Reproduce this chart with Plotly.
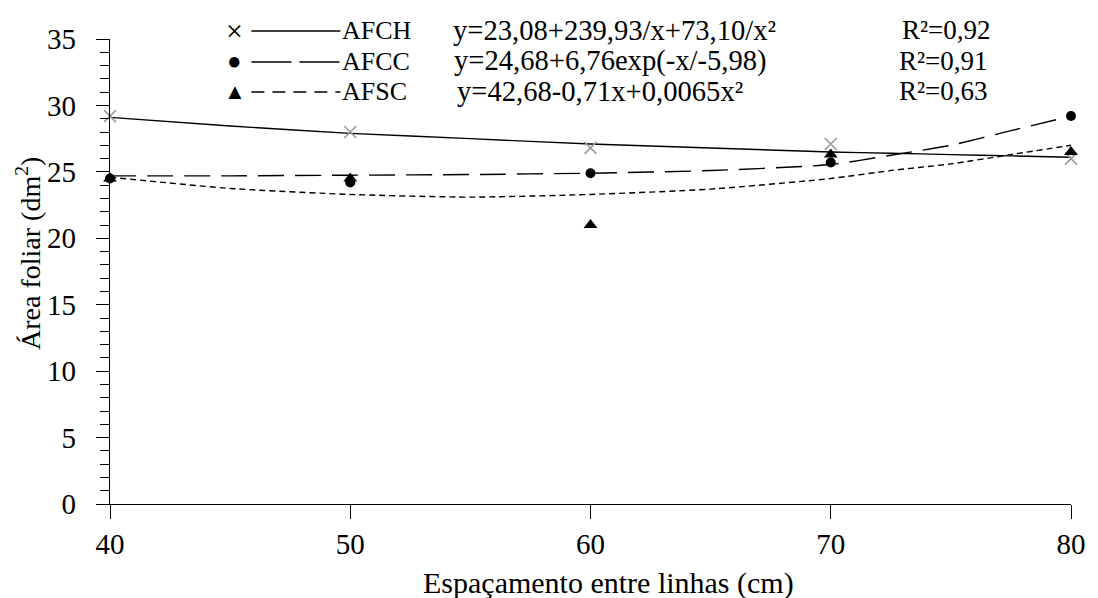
import plotly.graph_objects as go

# ---- data ----
x_obs = [40, 50, 60, 70, 80]
afch_obs = [29.2, 28.0, 26.8, 27.1, 26.0]
afcc_obs = [24.5, 24.2, 24.9, 25.7, 29.2]
afsc_obs = [24.5, 24.5, 21.0, 26.3, 26.5]

x_fit = [40, 45, 50, 55, 60, 65, 70, 72.5, 75, 77.5, 80]
afch_fit = [29.1, 28.45, 27.9, 27.5, 27.1, 26.8, 26.5, 26.4, 26.3, 26.2, 26.1]
afcc_fit = [24.7, 24.7, 24.75, 24.8, 24.9, 25.1, 25.55, 26.25, 27.0, 28.1, 29.2]
afsc_fit = [24.6, 23.75, 23.3, 23.1, 23.3, 23.7, 24.5, 25.1, 25.6, 26.3, 27.0]

series_names = ["AFCH", "AFCC", "AFSC"]
equations = ["y=23,08+239,93/x+73,10/x²",
             "y=24,68+6,76exp(-x/-5,98)",
             "y=42,68-0,71x+0,0065x²"]
r2_labels = ["R²=0,92", "R²=0,91", "R²=0,63"]
x_ticks = [40, 50, 60, 70, 80]
y_ticks = [0, 5, 10, 15, 20, 25, 30, 35]
x_title = "Espaçamento entre linhas (cm)"
y_title = "Área foliar (dm<sup>2</sup>)"

FONT = "Liberation Serif"
W, H = 1098, 598
L, R, T, B = 110, 16, 39, 94
PW, PH = W - L - R, H - T - B


def px(xp):
    return (xp - L) / PW


def py(yp):
    return (H - B - yp) / PH


fig = go.Figure()

line_styles = ["solid", "26px,11px", "6px,4px"]
fits = [afch_fit, afcc_fit, afsc_fit]
for fit, dash in zip(fits, line_styles):
    fig.add_trace(go.Scatter(x=x_fit, y=fit, mode="lines",
                             line=dict(color="black", width=1.4, dash=dash,
                                       shape="spline", smoothing=0.6),
                             showlegend=False, hoverinfo="skip"))

fig.add_trace(go.Scatter(x=x_obs, y=afch_obs, mode="markers",
                         marker=dict(symbol="x-thin-open", size=12, color="#9a9a9a",
                                     line=dict(color="#9a9a9a", width=1.6)),
                         showlegend=False, cliponaxis=False))
fig.add_trace(go.Scatter(x=x_obs, y=afcc_obs, mode="markers",
                         marker=dict(symbol="circle", size=10, color="black"),
                         showlegend=False, cliponaxis=False))
fig.add_trace(go.Scatter(x=x_obs, y=afsc_obs, mode="markers",
                         marker=dict(symbol="triangle-up", size=12, color="black"),
                         showlegend=False, cliponaxis=False))

# ---- hand-made legend ----
row_y = [30, 61, 91]
symbols = ["×", "●", "▲"]
sym_sizes = [30, 24, 22]
leg_dash = ["solid", "40px,8px", "13px,8px"]
eq_x = [455, 456, 459]
r2_x = [909, 906, 906]
ann = []
shapes = []
for i in range(3):
    ann.append(dict(x=px(236), y=py(row_y[i]), xref="paper", yref="paper",
                    text=symbols[i], showarrow=False, xanchor="center", yanchor="middle",
                    font=dict(family=FONT, size=sym_sizes[i], color="black")))
    shapes.append(dict(type="line", xref="paper", yref="paper",
                       x0=px(253), x1=px(343), y0=py(row_y[i] + 1), y1=py(row_y[i] + 1),
                       line=dict(color="black", width=1.3, dash=leg_dash[i])))
    ann.append(dict(x=px(343), y=py(row_y[i]), xref="paper", yref="paper",
                    text=series_names[i], showarrow=False, xanchor="left", yanchor="middle",
                    font=dict(family=FONT, size=26, color="black")))
    ann.append(dict(x=px(eq_x[i]), y=py(row_y[i]), xref="paper", yref="paper",
                    text=equations[i], showarrow=False, xanchor="left", yanchor="middle",
                    font=dict(family=FONT, size=28.6, color="black")))
    ann.append(dict(x=px(r2_x[i]), y=py(row_y[i]), xref="paper", yref="paper",
                    text=r2_labels[i], showarrow=False, xanchor="left", yanchor="middle",
                    font=dict(family=FONT, size=27, color="black")))

# axis titles as annotations (positioned like the reference)
ann.append(dict(x=px(614), y=py(583), xref="paper", yref="paper", text=x_title,
                showarrow=False, xanchor="center", yanchor="middle",
                font=dict(family=FONT, size=30, color="black")))
ann.append(dict(x=px(27), y=py(253), xref="paper", yref="paper", text=y_title,
                showarrow=False, xanchor="center", yanchor="middle", textangle=-90,
                font=dict(family=FONT, size=28, color="black")))

fig.update_layout(
    width=W, height=H,
    margin=dict(l=L, r=R, t=T, b=B, pad=0),
    paper_bgcolor="white", plot_bgcolor="white",
    font=dict(family=FONT, size=28, color="black"),
    annotations=ann, shapes=shapes,
    xaxis=dict(range=[40, 80], tickvals=x_ticks, ticks="outside", ticklen=14,
               tickwidth=1.3, tickcolor="black", showline=True, linecolor="black",
               linewidth=1.3, showgrid=False, zeroline=False,
               tickfont=dict(family=FONT, size=29, color="black")),
    yaxis=dict(range=[0, 35], tickvals=y_ticks, ticks="outside", ticklen=13,
               tickwidth=1.3, tickcolor="black", showline=True, linecolor="black",
               linewidth=1.3, showgrid=False, zeroline=False,
               tickfont=dict(family=FONT, size=29, color="black"), ticklabelstandoff=14,
               minor=dict(dtick=1, ticks="outside", ticklen=9, tickwidth=1.2,
                          tickcolor="black", showgrid=False)),
)

fig.write_html("out.html")
